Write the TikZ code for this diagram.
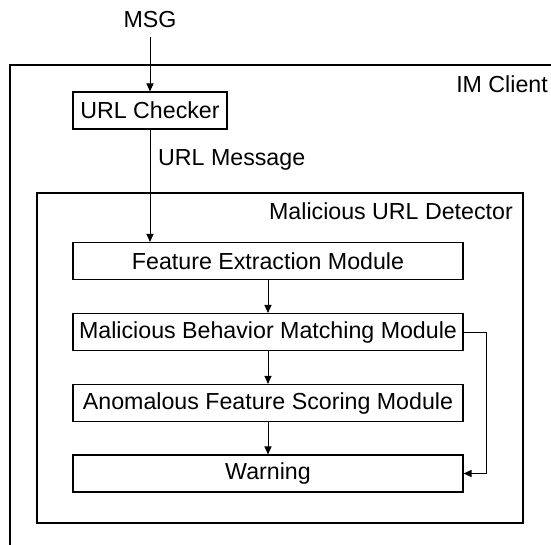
\documentclass[tikz,border=0pt]{standalone}
\usepackage{fontspec}
\setmainfont{Liberation Sans}
\usetikzlibrary{arrows.meta}
\begin{document}
\begin{tikzpicture}[x=1pt,y=-1pt,
  font=\fontsize{23.2}{27}\selectfont,
  module/.style={draw, line width=1.1pt, minimum width=390pt, minimum height=37pt, inner sep=0pt},
  frame/.style={draw, line width=1.7pt},
  flow/.style={line width=1pt, -{Triangle[length=8pt,width=7pt]}},
  tag/.style={inner sep=0pt}]
\useasboundingbox (0,0) rectangle (551,544);

% outer client frame runs past the right and bottom edges
\begin{scope}
  \clip (0,0) rectangle (551,544);
  \node[frame, anchor=north west, minimum width=560pt, minimum height=500pt, inner sep=0pt] (client) at (9,64) {};
\end{scope}
\node[tag, anchor=east] (clientlbl) at (548,84) {IM Client};

% inner detector frame
\node[frame, anchor=north west, minimum width=486pt, minimum height=330pt, inner sep=0pt] (detector) at (36,192) {};
\node[tag, anchor=east] (detlbl) at (513,211) {Malicious URL Detector};

% input and checker
\node[tag] (msg) at (150,20) {MSG};
\node[module, minimum width=154pt] (checker) at (150,110.5) {URL Checker};
\node[tag, anchor=west] (urlmsg) at (158,160) {URL Message};

% detector pipeline
\node[module] (feature) at (268,261) {Feature Extraction Module};
\node[module] (mbm) at (268,332) {Malicious Behavior Matching Module};
\node[module] (afs) at (268,403) {Anomalous Feature Scoring Module};
\node[module] (warning) at (268,473.5) {Warning};

% connectors
\draw[flow, shorten <=9pt] (msg.south) -- (checker.north);
\draw[flow] (checker.south) -- (checker.south |- feature.north);
\draw[flow] (feature) -- (mbm);
\draw[flow] (mbm) -- (afs);
\draw[flow] (afs) -- (warning);
\draw[flow] (mbm.east) -- ++(23,0) |- (warning.east);
\end{tikzpicture}
\end{document}
